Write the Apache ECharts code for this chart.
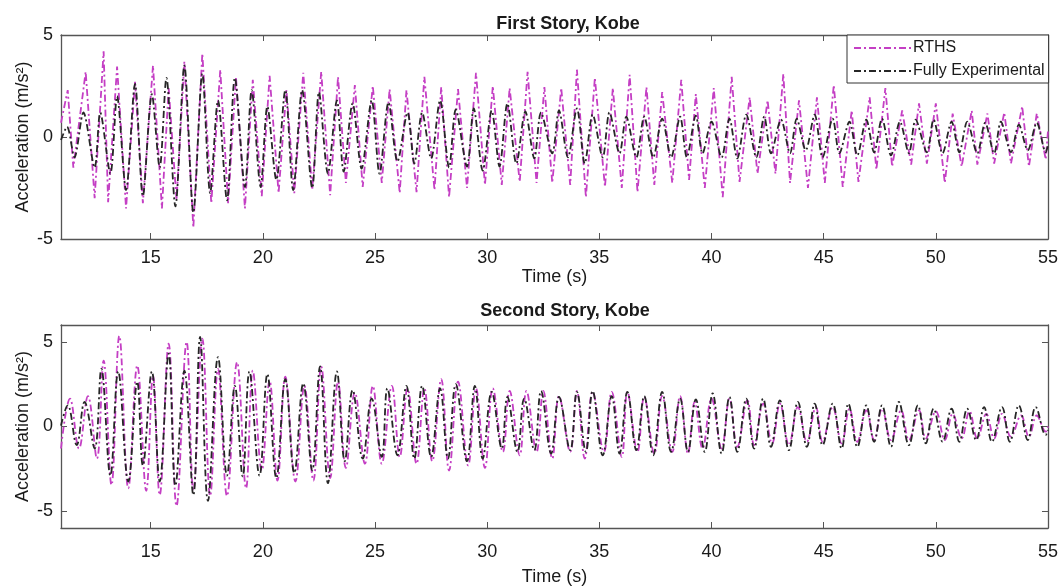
<!DOCTYPE html>
<html lang="en">
  <head>
    <meta charset="UTF-8" />
    <title>Kobe story accelerations</title>
    <script src="https://cdn.jsdelivr.net/npm/echarts@6/dist/echarts.min.js"></script>
    <style>
      html, body { margin: 0; padding: 0; background: #fff; }
    </style>
  </head>
  <body>
    <div id="main" style="width: 1061px; height: 588px"></div>
    <script type="text/javascript">
      // values: peaks/troughs of each record (time in s, accel in m/s^2)
      const xTicks = [15, 20, 25, 30, 35, 40, 45, 50, 55];
      const yTicks = [-5, 0, 5];

      // First story - RTHS
      const top_rths_t = [11.0, 11.3, 11.55, 12.1, 12.5, 12.9, 13.1, 13.5, 13.9, 14.3, 14.65, 15.1, 15.5, 15.8, 16.15, 16.5, 16.9, 17.3, 17.7, 18.1, 18.45, 18.8, 19.2, 19.55, 19.95, 20.3, 20.7, 21.05, 21.4, 21.8, 22.2, 22.6, 23.0, 23.35, 23.7, 24.1, 24.45, 24.9, 25.3, 25.65, 26.1, 26.4, 26.85, 27.2, 27.65, 27.95, 28.3, 28.7, 29.1, 29.5, 29.9, 30.25, 30.65, 31.0, 31.45, 31.8, 32.2, 32.55, 32.9, 33.3, 33.7, 34.0, 34.4, 34.8, 35.25, 35.6, 36.0, 36.35, 36.7, 37.1, 37.45, 37.8, 38.25, 38.65, 39.0, 39.3, 39.7, 40.1, 40.5, 40.9, 41.25, 41.7, 42.05, 42.5, 42.85, 43.2, 43.5, 43.9, 44.3, 44.7, 45.05, 45.45, 45.85, 46.25, 46.55, 47.05, 47.35, 47.75, 48.05, 48.5, 48.9, 49.25, 49.6, 50.0, 50.4, 50.75, 51.15, 51.6, 51.85, 52.3, 52.6, 53.05, 53.35, 53.85, 54.15, 54.5, 54.9, 55.0];
      const top_rths_a = [0.7, 2.3, -1.5, 3.2, -3.0, 4.2, -3.2, 3.45, -3.5, 2.7, -3.25, 3.5, -3.5, 2.4, -3.1, 3.7, -4.45, 4.1, -3.25, 3.3, -3.25, 2.95, -3.5, 2.8, -2.9, 3.0, -2.75, 2.3, -2.75, 3.15, -2.6, 3.2, -2.85, 2.95, -2.25, 2.55, -2.45, 2.5, -2.25, 2.35, -2.75, 2.3, -2.7, 2.95, -2.6, 2.45, -2.95, 2.35, -2.5, 3.15, -2.35, 2.5, -2.35, 2.4, -2.2, 3.2, -2.25, 2.45, -2.25, 2.4, -2.35, 3.3, -2.95, 2.9, -2.45, 2.4, -2.5, 3.05, -2.7, 2.45, -2.35, 2.2, -2.25, 2.8, -2.1, 2.1, -2.5, 2.4, -2.95, 2.95, -2.2, 1.95, -1.8, 1.8, -1.8, 3.1, -2.25, 1.8, -2.5, 1.95, -2.25, 2.55, -2.45, 1.3, -2.2, 1.95, -1.6, 2.4, -1.45, 1.3, -1.35, 1.65, -1.3, 1.65, -2.25, 1.15, -1.45, 1.3, -1.35, 1.15, -1.3, 1.2, -1.3, 1.5, -1.45, 1.15, -1.1, 0.3];

      // First story - fully experimental
      const top_exp_t = [11.0, 11.27, 11.6, 12.0, 12.5, 12.75, 13.2, 13.5, 13.9, 14.3, 14.65, 15.05, 15.4, 15.7, 16.1, 16.5, 16.9, 17.3, 17.65, 18.0, 18.4, 18.75, 19.2, 19.5, 19.9, 20.2, 20.6, 21.0, 21.35, 21.75, 22.2, 22.5, 22.9, 23.3, 23.6, 24.0, 24.4, 24.85, 25.2, 25.6, 26.0, 26.45, 26.75, 27.1, 27.5, 27.9, 28.3, 28.6, 29.1, 29.4, 29.8, 30.2, 30.55, 30.9, 31.3, 31.7, 32.1, 32.4, 32.9, 33.2, 33.6, 34.0, 34.35, 34.7, 35.15, 35.45, 35.9, 36.2, 36.65, 37.0, 37.4, 37.8, 38.2, 38.6, 38.9, 39.3, 39.6, 40.0, 40.45, 40.8, 41.15, 41.55, 42.0, 42.35, 42.65, 43.1, 43.5, 43.8, 44.2, 44.6, 44.95, 45.4, 45.7, 46.15, 46.5, 46.9, 47.25, 47.6, 48.0, 48.4, 48.8, 49.1, 49.6, 49.9, 50.3, 50.7, 51.05, 51.4, 51.85, 52.2, 52.6, 52.9, 53.35, 53.7, 54.1, 54.5, 54.9, 55.0];
      const top_exp_a = [-0.15, 0.5, -1.0, 1.2, -1.5, 1.2, -1.8, 2.0, -2.6, 2.6, -2.9, 2.1, -1.5, 2.9, -3.4, 3.5, -3.7, 3.1, -2.75, 1.8, -3.1, 2.9, -2.45, 2.3, -2.45, 1.5, -2.1, 2.3, -2.6, 2.3, -2.5, 2.2, -1.8, 1.8, -1.7, 1.65, -1.55, 1.8, -1.8, 1.7, -1.2, 1.2, -1.3, 1.2, -1.05, 1.8, -1.5, 1.35, -1.45, 1.4, -1.65, 1.3, -1.45, 1.65, -1.3, 1.25, -1.05, 1.2, -0.8, 1.3, -1.0, 1.4, -1.3, 1.1, -1.0, 1.2, -0.8, 1.0, -1.0, 1.0, -1.0, 0.9, -1.0, 1.0, -1.0, 1.05, -0.8, 0.75, -1.0, 0.9, -1.05, 1.1, -1.0, 1.0, -0.8, 0.85, -0.8, 0.9, -0.65, 1.1, -1.0, 0.9, -0.8, 0.75, -0.9, 0.85, -0.75, 0.9, -0.9, 0.75, -0.8, 0.85, -0.75, 0.85, -0.8, 0.75, -0.75, 0.75, -0.8, 0.7, -0.8, 0.75, -0.75, 0.6, -0.65, 0.7, -0.75, -0.4];

      // Second story - RTHS
      const bot_rths_t = [11.0, 11.4, 11.8, 12.2, 12.6, 12.9, 13.25, 13.6, 14.0, 14.4, 14.8, 15.1, 15.4, 15.8, 16.15, 16.6, 16.9, 17.3, 17.65, 18.0, 18.4, 18.85, 19.25, 19.55, 19.95, 20.3, 20.65, 21.0, 21.45, 21.85, 22.25, 22.6, 23.0, 23.35, 23.7, 24.1, 24.55, 24.9, 25.3, 25.75, 26.1, 26.45, 26.85, 27.2, 27.55, 27.95, 28.3, 28.7, 29.15, 29.5, 29.9, 30.25, 30.7, 31.0, 31.45, 31.75, 32.2, 32.5, 32.9, 33.2, 33.7, 34.0, 34.35, 34.7, 35.2, 35.55, 36.0, 36.25, 36.7, 37.0, 37.45, 37.8, 38.25, 38.6, 38.95, 39.25, 39.6, 40.0, 40.45, 40.8, 41.15, 41.6, 41.9, 42.3, 42.7, 43.05, 43.45, 43.85, 44.25, 44.65, 44.95, 45.4, 45.8, 46.15, 46.5, 46.9, 47.25, 47.6, 48.0, 48.45, 48.8, 49.25, 49.55, 50.0, 50.4, 50.75, 51.15, 51.5, 51.85, 52.25, 52.6, 52.95, 53.35, 53.8, 54.15, 54.5, 54.9, 55.0];
      const bot_rths_a = [-1.3, 1.65, -1.3, 1.8, -1.9, 3.9, -3.45, 5.35, -3.65, 3.6, -3.8, 3.0, -4.05, 4.9, -4.7, 5.0, -3.8, 5.2, -4.1, 3.4, -4.1, 3.8, -3.65, 3.3, -2.6, 2.7, -3.2, 2.95, -3.25, 2.4, -3.2, 3.55, -3.05, 2.65, -2.45, 2.0, -2.2, 2.4, -2.2, 2.4, -1.8, 2.25, -2.2, 2.25, -2.05, 2.8, -2.6, 2.65, -2.3, 2.25, -2.45, 2.25, -1.5, 2.1, -1.7, 2.1, -1.5, 2.1, -1.9, 1.8, -1.5, 2.1, -1.9, 2.05, -1.5, 2.05, -1.8, 2.05, -1.5, 1.75, -1.6, 1.8, -1.5, 1.8, -1.6, 1.45, -1.3, 1.65, -1.3, 1.65, -1.2, 1.55, -1.1, 1.35, -1.0, 1.35, -1.1, 1.15, -0.9, 1.15, -0.9, 1.15, -1.0, 1.05, -0.9, 0.95, -0.8, 1.05, -0.8, 0.95, -0.8, 0.95, -0.7, 0.9, -0.8, 0.75, -0.7, 0.9, -0.7, 0.75, -0.7, 0.75, -0.6, 0.65, -0.6, 0.65, -0.3, 0.0];

      // Second story - fully experimental
      const bot_exp_t = [11.0, 11.3, 11.7, 12.05, 12.5, 12.8, 13.2, 13.55, 14.0, 14.4, 14.65, 15.05, 15.4, 15.8, 16.1, 16.5, 16.9, 17.2, 17.55, 18.0, 18.4, 18.75, 19.1, 19.4, 19.85, 20.2, 20.6, 21.0, 21.4, 21.8, 22.2, 22.55, 22.9, 23.3, 23.65, 24.0, 24.45, 24.85, 25.3, 25.55, 26.0, 26.4, 26.75, 27.1, 27.5, 27.9, 28.25, 28.6, 29.1, 29.45, 29.8, 30.2, 30.65, 30.9, 31.35, 31.65, 32.1, 32.4, 32.85, 33.2, 33.7, 34.0, 34.4, 34.7, 35.15, 35.55, 35.9, 36.25, 36.65, 37.0, 37.4, 37.8, 38.2, 38.6, 38.95, 39.3, 39.7, 40.05, 40.45, 40.8, 41.15, 41.55, 41.9, 42.3, 42.65, 43.05, 43.45, 43.85, 44.25, 44.6, 44.95, 45.4, 45.8, 46.1, 46.5, 46.9, 47.25, 47.6, 48.0, 48.35, 48.8, 49.2, 49.55, 49.9, 50.3, 50.7, 51.05, 51.4, 51.8, 52.15, 52.5, 52.95, 53.3, 53.7, 54.1, 54.45, 54.9, 55.0];
      const bot_exp_a = [0.05, 1.25, -1.1, 1.45, -1.3, 3.4, -2.9, 3.25, -3.25, 2.65, -2.3, 3.25, -3.25, 4.3, -3.5, 3.3, -4.05, 5.3, -4.4, 4.1, -2.9, 2.4, -2.95, 3.25, -2.9, 3.1, -3.05, 2.8, -2.75, 2.55, -2.6, 3.55, -3.35, 3.25, -2.05, 2.15, -1.9, 1.65, -1.8, 2.25, -1.7, 2.4, -1.9, 2.4, -1.8, 2.25, -1.9, 2.5, -2.05, 2.4, -1.9, 2.05, -1.3, 1.75, -1.5, 1.65, -1.4, 2.1, -1.6, 1.75, -1.4, 2.05, -1.5, 2.1, -1.7, 1.8, -1.6, 2.05, -1.4, 1.8, -1.7, 2.05, -1.5, 1.65, -1.5, 1.6, -1.5, 1.95, -1.6, 1.75, -1.5, 1.65, -1.3, 1.65, -1.2, 1.55, -1.4, 1.45, -1.2, 1.35, -1.1, 1.35, -1.3, 1.35, -1.2, 1.25, -0.9, 1.25, -1.2, 1.45, -1.1, 1.25, -1.0, 1.05, -0.9, 1.05, -0.9, 1.05, -0.8, 1.15, -0.9, 1.15, -0.9, 1.25, -0.8, 1.15, -0.5, -0.2];

      const FONT = "Liberation Sans, Arial, Helvetica, sans-serif";
      const MAGENTA = "#c43fc4";
      const BLACK = "#262626";
      const DASHDOT = [7, 3, 2, 3];

      function pairs(t, a) {
        return t.map((x, i) => [x, a[i]]);
      }

      function bottomX(grid, margin, gap) {
        return {
          gridIndex: grid, type: "value", min: 11, max: 55, position: "bottom",
          name: "Time (s)", nameLocation: "middle", nameGap: gap,
          nameTextStyle: { fontFamily: FONT, fontSize: 18, color: "#1a1a1a" },
          axisLine: { show: true, onZero: false, lineStyle: { color: "#555", width: 1.3 } },
          axisTick: { show: true, inside: true, length: 6, customValues: xTicks, lineStyle: { color: "#555" } },
          axisLabel: { customValues: xTicks, margin: margin, fontFamily: FONT, fontSize: 18, color: "#1a1a1a" },
          splitLine: { show: false },
        };
      }
      function topX(grid) {
        return {
          gridIndex: grid, type: "value", min: 11, max: 55, position: "top",
          axisLine: { show: true, onZero: false, lineStyle: { color: "#555", width: 1.3 } },
          axisTick: { show: true, inside: true, length: 6, customValues: xTicks, lineStyle: { color: "#555" } },
          axisLabel: { show: false },
          splitLine: { show: false },
        };
      }
      function leftY(grid, lim) {
        return {
          gridIndex: grid, type: "value", min: -lim, max: lim, position: "left",
          name: "Acceleration (m/s²)", nameLocation: "middle", nameGap: 29,
          nameMoveOverlap: false,
          nameTextStyle: { fontFamily: FONT, fontSize: 18, color: "#1a1a1a" },
          axisLine: { show: true, onZero: false, lineStyle: { color: "#555", width: 1.3 } },
          axisTick: { show: true, inside: true, length: 6, customValues: yTicks, lineStyle: { color: "#555" } },
          axisLabel: { customValues: yTicks, margin: 8, fontFamily: FONT, fontSize: 18, color: "#1a1a1a" },
          splitLine: { show: false },
        };
      }
      function rightY(grid, lim) {
        return {
          gridIndex: grid, type: "value", min: -lim, max: lim, position: "right",
          axisLine: { show: true, onZero: false, lineStyle: { color: "#555", width: 1.3 } },
          axisTick: { show: true, inside: true, length: 6, customValues: yTicks, lineStyle: { color: "#555" } },
          axisLabel: { show: false },
          splitLine: { show: false },
        };
      }
      function line(name, color, xi, yi, data, smooth, width) {
        return {
          name: name, type: "line", xAxisIndex: xi, yAxisIndex: yi,
          data: data, symbol: "none", smooth: smooth, animation: false,
          lineStyle: { color: color, width: width, type: DASHDOT },
          itemStyle: { color: color },
        };
      }

      let options = {
        backgroundColor: "#fff",
        animation: false,
        title: [
          { text: "First Story, Kobe", left: 563, top: 10, textAlign: "center",
            textStyle: { fontFamily: FONT, fontSize: 18, fontWeight: "bold", color: "#1a1a1a" } },
          { text: "Second Story, Kobe", left: 560, top: 297, textAlign: "center",
            textStyle: { fontFamily: FONT, fontSize: 18, fontWeight: "bold", color: "#1a1a1a" } },
        ],
        legend: {
          data: ["RTHS", "Fully Experimental"],
          orient: "vertical", left: 847, top: 35,
          itemWidth: 58, itemHeight: 12, itemGap: 7,
          padding: [5, 4, 4, 6],
          itemStyle: { opacity: 0 },
          backgroundColor: "#fff", borderColor: "#333", borderWidth: 1, borderRadius: 0,
          textStyle: { fontFamily: FONT, fontSize: 16, color: "#1a1a1a", padding: [0, 0, 0, -4] },
        },
        grid: [
          { left: 61, right: 12, top: 35, height: 204, containLabel: false },
          { left: 61, right: 12, top: 325, height: 203, containLabel: false },
        ],
        xAxis: [bottomX(0, 10, 29), bottomX(1, 15, 40), topX(0), topX(1)],
        yAxis: [leftY(0, 5), leftY(1, 6), rightY(0, 5), rightY(1, 6)],
        series: [
          line("RTHS", MAGENTA, 0, 0, pairs(top_rths_t, top_rths_a), false, 1.8),
          line("Fully Experimental", BLACK, 0, 0, pairs(top_exp_t, top_exp_a), 0.3, 1.8),
          line("RTHS", MAGENTA, 1, 1, pairs(bot_rths_t, bot_rths_a), 0.4, 1.8),
          line("Fully Experimental", BLACK, 1, 1, pairs(bot_exp_t, bot_exp_a), 0.4, 1.8),
        ],
      };

      let myChart = echarts.init(document.getElementById("main"));
      myChart.setOption(options);
    </script>
  </body>
</html>
